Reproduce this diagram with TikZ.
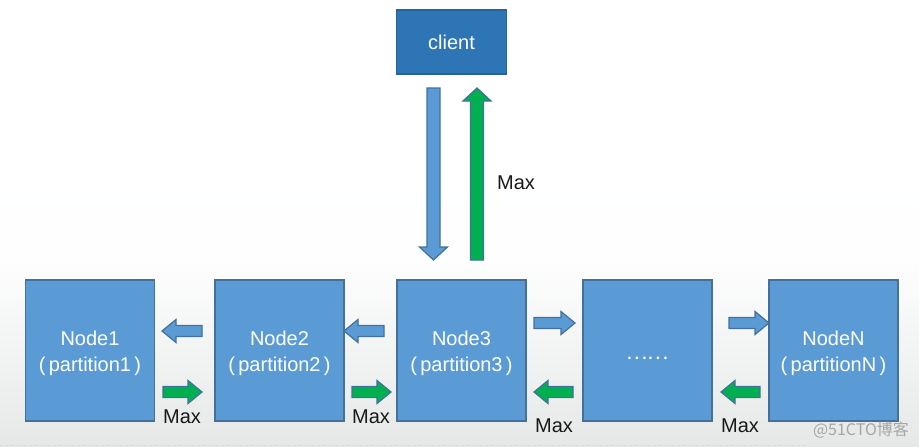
\documentclass[tikz,border=0pt]{standalone}
\usepackage{fontspec}
\setmainfont{Liberation Sans}
\newfontfamily\cjk{Noto Sans CJK SC}
\definecolor{nodeblue}{HTML}{5B9BD5}
\definecolor{edgeblue}{HTML}{41719C}
\definecolor{clientblue}{HTML}{2E75B6}
\definecolor{arrgreen}{HTML}{00B050}
\definecolor{bgbottom}{HTML}{E6E8E8}
\newcommand\blockh[4]{%
  \pgfmathsetmacro\dirh{sign(#2-#1)}%
  \draw[#4] (#1,#3-5.5) -- ({#2-\dirh*14},#3-5.5) -- ({#2-\dirh*14},#3-11.5) -- (#2,#3)
    -- ({#2-\dirh*14},#3+11.5) -- ({#2-\dirh*14},#3+5.5) -- (#1,#3+5.5) -- cycle;}
\newcommand\blockv[4]{%
  \pgfmathsetmacro\dirv{sign(#2-#1)}%
  \draw[#4] (#3-6.5,#1) -- (#3-6.5,{#2-\dirv*13}) -- (#3-14,{#2-\dirv*13}) -- (#3,#2)
    -- (#3+14,{#2-\dirv*13}) -- (#3+6.5,{#2-\dirv*13}) -- (#3+6.5,#1) -- cycle;}
\begin{document}
\begin{tikzpicture}[x=1pt,y=-1pt,
  box/.style={draw=edgeblue,fill=nodeblue,line width=1.5pt,minimum width=129pt,minimum height=141pt,inner sep=0pt},
  boxtext/.style={text=white,align=center,font=\fontsize{20}{26}\selectfont,inner sep=0pt},
  clientbox/.style={draw=clientblue!85!black,fill=clientblue,line width=1.2pt,minimum width=110pt,minimum height=64pt,
    text=white,font=\fontsize{20}{24}\selectfont,inner sep=0pt},
  barrow/.style={draw=edgeblue,fill=nodeblue,line width=1.2pt,line join=miter},
  garrow/.style={draw=edgeblue,fill=arrgreen,line width=1.2pt,line join=miter},
  lbl/.style={font=\fontsize{20}{24}\selectfont,text=black!90,inner sep=0pt}]
\useasboundingbox (0,0) rectangle (919,447);
\fill[white] (0,0) rectangle (919,65);
\shade[top color=white,bottom color=bgbottom,middle color=white!97!bgbottom] (0,65) rectangle (919,447);
\draw[gray!35,dotted] (0,445) -- (805,445);

\node[clientbox] (client) at (451.5,42) {client};
\node[box] (n1) at (90,350.5) {};
\node[box] (n2) at (279.5,350.5) {};
\node[box] (n3) at (461.5,350.5) {};
\node[box] (nd) at (647.5,350.5) {};
\node[box] (nN) at (833.5,350.5) {};
\node[boxtext] (t1) at ([yshift=-3pt]n1.center) {Node1\\(\,partition1\,)};
\node[boxtext] (t2) at ([yshift=-3pt]n2.center) {Node2\\(\,partition2\,)};
\node[boxtext] (t3) at ([yshift=-3pt]n3.center) {Node3\\(\,partition3\,)};
\node[boxtext] (td) at ([yshift=-8pt]nd.center) {\cjk ……};
\node[boxtext] (tN) at ([yshift=-3pt]nN.center) {NodeN\\(\,partitionN\,)};

% vertical arrows client <-> Node3
\blockv{88}{260}{433.5}{barrow}
\blockv{260}{88}{477}{garrow}
\node[lbl,anchor=west] (m0) at (497,183) {Max};

% Node1 <-> Node2
\blockh{202}{162}{331}{barrow}
\blockh{163}{202}{392}{garrow}
\node[lbl] (m1) at (182,417) {Max};
% Node2 <-> Node3
\blockh{384}{344}{331}{barrow}
\blockh{352}{391}{392}{garrow}
\node[lbl] (m2) at (371,417) {Max};
% Node3 <-> dots
\blockh{534}{575}{323}{barrow}
\blockh{573}{534}{392}{garrow}
\node[lbl] (m3) at (554,426) {Max};
% dots <-> NodeN
\blockh{729}{769}{323}{barrow}
\blockh{760}{721}{392}{garrow}
\node[lbl] (m4) at (740,426) {Max};

\node[font=\cjk\fontsize{16}{18}\selectfont,text=gray!70,inner sep=0pt] (wm) at (861,430) {@51CTO博客};
\end{tikzpicture}
\end{document}
